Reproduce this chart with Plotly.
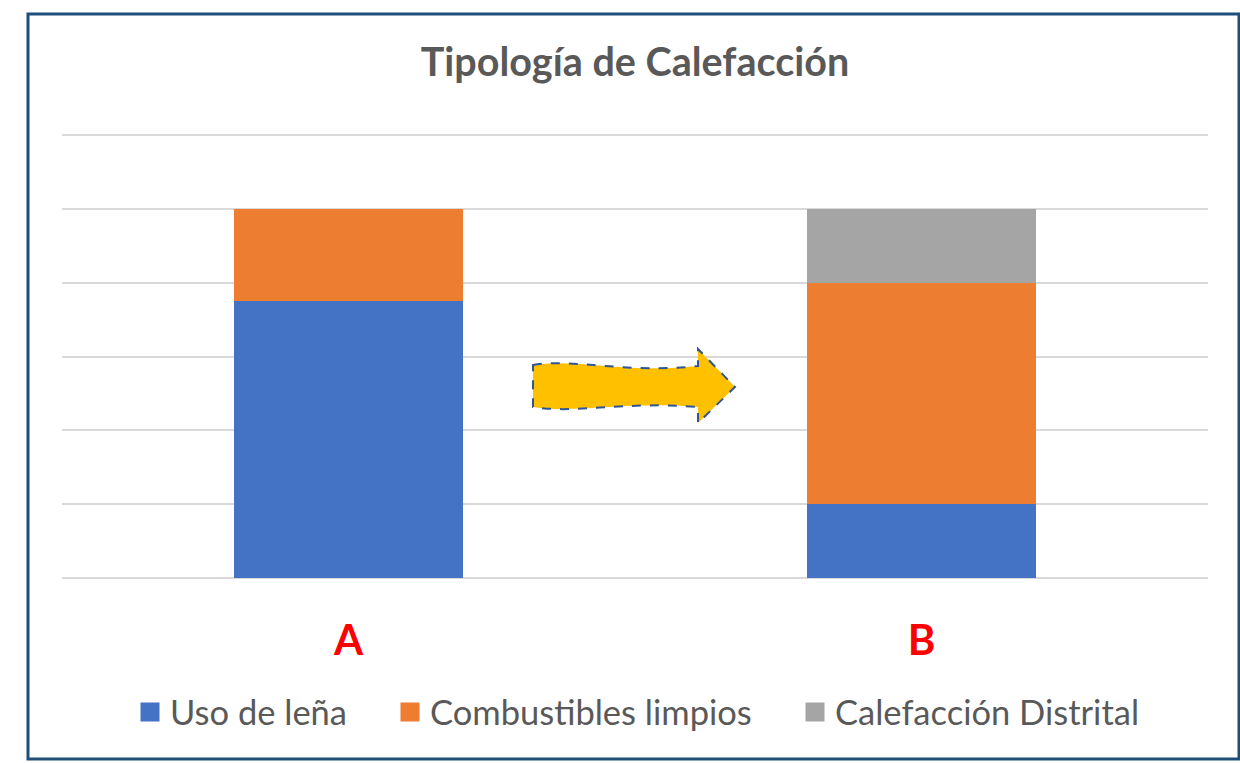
import plotly.graph_objects as go

categories = ["A", "B"]
series_names = ["Uso de leña", "Combustibles limpios", "Calefacción Distrital"]
uso_lena = [75, 20]
combustibles = [25, 60]
distrital = [0, 20]
colors = ["#4472C4", "#ED7D31", "#A5A5A5"]

W, H = 1240, 763
L, R, T, B = 62, 32, 134, 185
pw, ph = W - L - R, H - T - B


def px(x):
    return (x - L) / pw


def py(y):
    return (H - B - y) / ph


fig = go.Figure()
for name, vals, col in zip(series_names, [uso_lena, combustibles, distrital], colors):
    fig.add_trace(go.Bar(x=categories, y=vals, name=name, marker_color=col,
                         marker_line_width=0, showlegend=False, hoverinfo="skip"))

legend_ids = ["legend", "legend2", "legend3"]
legend_sq_centers = [150, 410, 815]
for name, col, lid in zip(series_names, colors, legend_ids):
    fig.add_trace(go.Scatter(x=[None], y=[None], mode="markers", name=name, legend=lid,
                             marker=dict(symbol="square", size=16, color=col,
                                         line=dict(color=col, width=3))))

# arrow (decoration) in pixel space converted to paper
def P(x, y):
    return f"{px(x):.5f},{py(y):.5f}"

arrow = (f"M{P(533,365)} C{P(575,358)} {P(625,374)} {P(698,366)} "
         f"L{P(698,349)} L{P(735,387)} L{P(698,423)} L{P(698,407)} "
         f"C{P(625,401)} {P(575,414)} {P(533,407)} Z")
fig.add_shape(type="path", path=arrow, xref="paper", yref="paper",
              fillcolor="#FFC000", line=dict(color="#2F5597", width=2, dash="dash"))

# outer frame
fig.add_shape(type="rect", xref="paper", yref="paper",
              x0=px(28), x1=px(1239), y0=py(759), y1=py(14),
              line=dict(color="#1F4E79", width=3), fillcolor="rgba(0,0,0,0)", layer="above")

legend_common = dict(orientation="h", y=py(712), yanchor="middle", xanchor="left",
                     font=dict(family="Lato", size=34.5, color="#595959"),
                     itemwidth=30, bgcolor="rgba(0,0,0,0)", borderwidth=0)
legends = {}
for lid, cx in zip(legend_ids, legend_sq_centers):
    legends[lid] = dict(legend_common, x=px(cx - 20))

fig.update_layout(
    width=W, height=H,
    margin=dict(l=L, r=R, t=T, b=B),
    barmode="stack", bargap=0.6,
    paper_bgcolor="white", plot_bgcolor="white",
    title=dict(text="<b>Tipología de Calefacción</b>", x=0.5, xanchor="center", xref="paper",
               y=1 - 62 / H, yanchor="middle", yref="container",
               font=dict(family="Lato", size=39.5, color="#595959")),
    xaxis=dict(range=[-0.5, 1.5], showgrid=False, showline=False, zeroline=False,
               ticks="", tickfont=dict(family="Lato", size=42, color="#FF0000", weight="bold"),
               ticklabelstandoff=34),
    yaxis=dict(range=[0, 120.3], tickvals=[0, 20, 40, 60, 80, 100, 120],
               showticklabels=False, showgrid=True,
               gridcolor="#D9D9D9", gridwidth=1.5, zeroline=True, zerolinecolor="#D9D9D9",
               zerolinewidth=1.5, showline=False),
    font=dict(family="Lato"),
    **legends,
)

fig.write_html("out.html", config={"displayModeBar": False},
               post_script="document.body.style.margin='0';document.body.style.overflow='hidden';")
